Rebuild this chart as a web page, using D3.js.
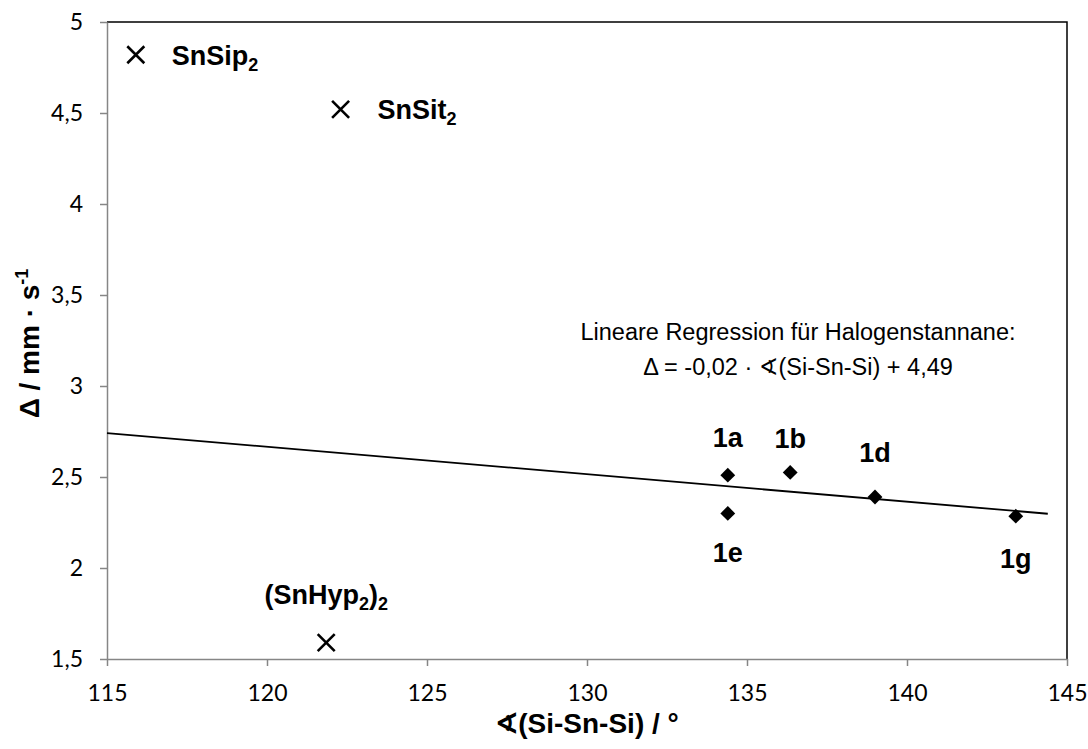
<!DOCTYPE html>
<html>
<head>
<meta charset="utf-8">
<script src="https://cdn.jsdelivr.net/npm/d3@7"></script>
<style>
  html, body { margin: 0; padding: 0; background: #fff; }
  svg { display: block; }
</style>
</head>
<body>
<svg id="chart" width="1088" height="749"></svg>
<script>
// Halogenstannanes (diamonds) — quadrupole splitting vs. Si-Sn-Si angle
const halogenLabels = ["1a", "1b", "1d", "1e", "1g"];
const halogenAngles = [134.4, 136.35, 139.0, 134.4, 143.4];
const halogenDelta  = [2.51, 2.525, 2.39, 2.30, 2.285];

// Other stannylenes (crosses)
const otherLabels = [["SnSip", "2"], ["SnSit", "2"], ["(SnHyp", "2", ")", "2"]];
const otherAngles = [115.9, 122.3, 121.85];
const otherDelta  = [4.82, 4.52, 1.59];

// Axis ticks
const xTicks = [115, 120, 125, 130, 135, 140, 145];
const yTicks = [1.5, 2, 2.5, 3, 3.5, 4, 4.5, 5];

// Trend line range (angle)
const trendRange = [115, 144.4];

const regressionText = ["Lineare Regression für Halogenstannane:",
                        "\u0394 = -0,02 \u00b7 \u2222(Si-Sn-Si) + 4,49"];

const svg = d3.select("#chart");
const plot = { left: 107, right: 1067, top: 22, bottom: 659 };

const x = d3.scaleLinear().domain([115, 145]).range([plot.left, plot.right]);
const y = d3.scaleLinear().domain([1.5, 5]).range([plot.bottom, plot.top]);

const comma = d => String(d).replace(".", ",");
const axisGrey = "#868686";
const tickFont = "Lato, 'Open Sans', sans-serif";
const boldFont = "'Liberation Sans', Arial, sans-serif";

// Plot area frame (top and right edges)
svg.append("path")
  .attr("d", `M${plot.left},${plot.top}H${plot.right}V${plot.bottom}`)
  .attr("fill", "none").attr("stroke", "#000").attr("stroke-width", 1.5);

// Axes
const gx = svg.append("g").attr("transform", `translate(0,${plot.bottom})`)
  .call(d3.axisBottom(x).tickValues(xTicks).tickSize(7).tickPadding(19).tickSizeOuter(0));
const gy = svg.append("g").attr("transform", `translate(${plot.left},0)`)
  .call(d3.axisLeft(y).tickValues(yTicks).tickFormat(comma).tickSize(7).tickPadding(17).tickSizeOuter(0));
[gx, gy].forEach(g => {
  g.select(".domain").attr("stroke", axisGrey).attr("stroke-width", 1.5);
  g.selectAll(".tick line").attr("stroke", axisGrey).attr("stroke-width", 1.5);
  g.selectAll(".tick text").attr("fill", "#000")
    .attr("font-family", tickFont).attr("font-size", 23);
});

// Least-squares regression over the halogenstannanes
const n = halogenAngles.length;
const mx = d3.mean(halogenAngles), my = d3.mean(halogenDelta);
let sxy = 0, sxx = 0;
for (let i = 0; i < n; i++) {
  sxy += (halogenAngles[i] - mx) * (halogenDelta[i] - my);
  sxx += (halogenAngles[i] - mx) ** 2;
}
const slope = sxy / sxx, intercept = my - slope * mx;
svg.append("path")
  .datum(trendRange)
  .attr("d", d3.line().x(d => x(d)).y(d => y(slope * d + intercept)))
  .attr("fill", "none").attr("stroke", "#000").attr("stroke-width", 1.8);

// Diamonds
const diamond = d3.symbol().type(d3.symbolDiamond2).size(140);
svg.append("g").selectAll("path")
  .data(halogenAngles.map((a, i) => [a, halogenDelta[i]]))
  .join("path")
  .attr("d", diamond)
  .attr("transform", d => `translate(${x(d[0])},${y(d[1])})`)
  .attr("fill", "#000");

// Crosses
const cr = 8.5;
svg.append("g").selectAll("path")
  .data(otherAngles.map((a, i) => [a, otherDelta[i]]))
  .join("path")
  .attr("d", d => {
    const cx = x(d[0]), cy = y(d[1]);
    return `M${cx - cr},${cy - cr}L${cx + cr},${cy + cr}M${cx - cr},${cy + cr}L${cx + cr},${cy - cr}`;
  })
  .attr("stroke", "#000").attr("stroke-width", 2.6).attr("fill", "none");

// Point labels: offset from the marker, anchor
const halogenPlacement = [
  { dx: 0, dy: -28, anchor: "middle" },
  { dx: 0, dy: -24, anchor: "middle" },
  { dx: 0, dy: -35, anchor: "middle" },
  { dx: 0, dy: 49, anchor: "middle" },
  { dx: 0, dy: 52, anchor: "middle" }
];
const otherPlacement = [
  { dx: 36, dy: 10, anchor: "start" },
  { dx: 37, dy: 10, anchor: "start" },
  { dx: 0, dy: -39, anchor: "middle" }
];

const labelFont = 27;
halogenLabels.forEach((lab, i) => {
  const p = halogenPlacement[i];
  svg.append("text")
    .attr("x", x(halogenAngles[i]) + p.dx).attr("y", y(halogenDelta[i]) + p.dy)
    .attr("text-anchor", p.anchor)
    .attr("font-family", boldFont).attr("font-weight", "bold").attr("font-size", labelFont)
    .text(lab);
});
otherLabels.forEach((parts, i) => {
  const p = otherPlacement[i];
  const t = svg.append("text")
    .attr("x", x(otherAngles[i]) + p.dx).attr("y", y(otherDelta[i]) + p.dy)
    .attr("text-anchor", p.anchor)
    .attr("font-family", boldFont).attr("font-weight", "bold").attr("font-size", labelFont);
  parts.forEach((s, k) => {
    const sub = k % 2 === 1;
    t.append("tspan")
      .attr("font-size", sub ? 18 : labelFont)
      .attr("dy", sub ? 6 : (k > 0 ? -6 : 0))
      .text(s);
  });
});

// Regression annotation
const regX = 798;
regressionText.forEach((s, i) => {
  svg.append("text")
    .attr("x", regX).attr("y", 340 + i * 35)
    .attr("text-anchor", "middle")
    .attr("font-family", "'Liberation Sans', Arial, 'DejaVu Sans', sans-serif")
    .attr("font-size", 23.5)
    .text(s);
});

// Axis titles
svg.append("text")
  .attr("x", (plot.left + plot.right) / 2).attr("y", 733)
  .attr("text-anchor", "middle")
  .attr("font-family", boldFont).attr("font-weight", "bold").attr("font-size", 28)
  .text("\u2222(Si-Sn-Si) / \u00b0");

const yt = svg.append("text")
  .attr("transform", `translate(39,${(plot.top + plot.bottom) / 2 + 3}) rotate(-90)`)
  .attr("text-anchor", "middle")
  .attr("font-family", boldFont).attr("font-weight", "bold").attr("font-size", 28);
yt.append("tspan").text("\u0394 / mm \u00b7 s");
yt.append("tspan").attr("font-size", 18).attr("dy", -11).text("-1");
</script>
</body>
</html>
